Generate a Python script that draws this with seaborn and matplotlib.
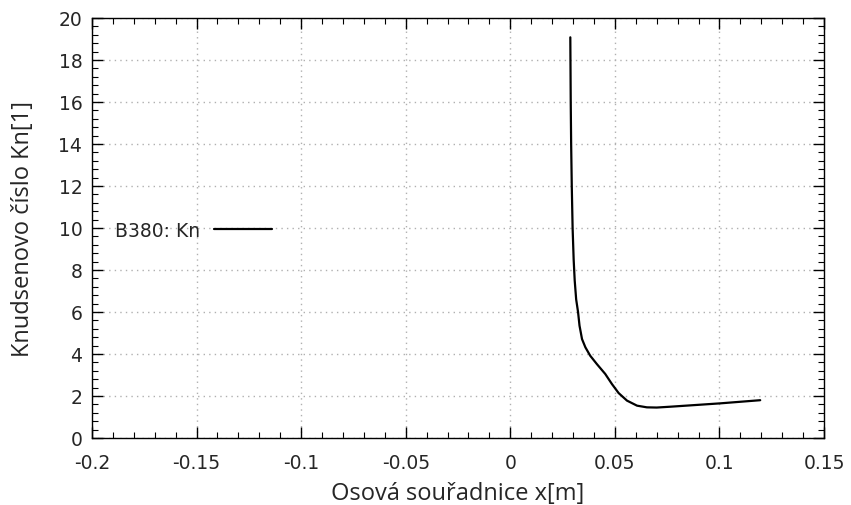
import matplotlib
matplotlib.use("Agg")
import matplotlib.pyplot as plt
import seaborn as sns
import pandas as pd
from matplotlib.ticker import MultipleLocator, FuncFormatter

# Data
x_m = [0.0287, 0.0289, 0.0291, 0.0294, 0.0298, 0.0303, 0.0308, 0.0315, 0.0324,
       0.0331, 0.0343, 0.0359, 0.0382, 0.0414, 0.0454, 0.0486, 0.0518, 0.0558,
       0.0606, 0.0653, 0.0700, 0.0765, 0.0900, 0.1004, 0.1195]
kn = [19.08, 16.0, 14.0, 12.0, 10.0, 8.5, 7.5, 6.6, 6.0,
      5.35, 4.71, 4.32, 3.92, 3.52, 3.05, 2.57, 2.14, 1.78,
      1.54, 1.46, 1.45, 1.49, 1.58, 1.65, 1.80]
series_label = "B380: Kn"
x_title = "Osová souřadnice x[m]"
y_title = "Knudsenovo číslo Kn[1]"

df = pd.DataFrame({"x": x_m, "kn": kn, "s": series_label})

sns.set_style("white")
plt.rcParams['font.family'] = ['DejaVu Sans']

fig = plt.figure(figsize=(8.51, 5.06), dpi=100)
ax = fig.add_axes([92/851, (506-439)/506, (824-92)/851, (439-19)/506])

sns.lineplot(data=df, x="x", y="kn", hue="s", palette=["black"], sort=False,
             estimator=None, linewidth=1.6, ax=ax)

ax.set_xlim(-0.2, 0.15)
ax.set_ylim(0, 20)
ax.xaxis.set_major_locator(MultipleLocator(0.05))
ax.xaxis.set_minor_locator(MultipleLocator(0.01))
ax.yaxis.set_major_locator(MultipleLocator(2))
ax.yaxis.set_minor_locator(MultipleLocator(0.4))

def fmt(v, pos):
    s = f"{v:.2f}".rstrip("0").rstrip(".")
    if s in ("-0", ""):
        s = "0"
    return s
ax.xaxis.set_major_formatter(FuncFormatter(fmt))

ax.tick_params(which="both", direction="in", top=True, right=True,
               bottom=True, left=True, color="black")
ax.tick_params(which="major", length=8, width=1, labelsize=13.5, pad=7)
ax.tick_params(axis="x", which="major", pad=11)
ax.tick_params(which="minor", length=4.5, width=0.8)
for sp in ax.spines.values():
    sp.set_color("black")
    sp.set_linewidth(1)

ax.grid(True, which="major", linestyle=(0, (1, 3)), color="#b0b0b0", linewidth=1)

ax.set_xlabel(x_title, fontsize=17, labelpad=6, family=['Open Sans', 'DejaVu Sans'])
ax.set_ylabel(y_title, fontsize=17, labelpad=17, family=['Open Sans', 'DejaVu Sans'])

leg = ax.legend(loc="center left", bbox_to_anchor=(0.0, 0.495), frameon=False,
                markerfirst=False, fontsize=13.5, handlelength=3.1, handletextpad=0.7,
                borderpad=0.4, borderaxespad=0.85)

fig.savefig("out.png", dpi=100)
